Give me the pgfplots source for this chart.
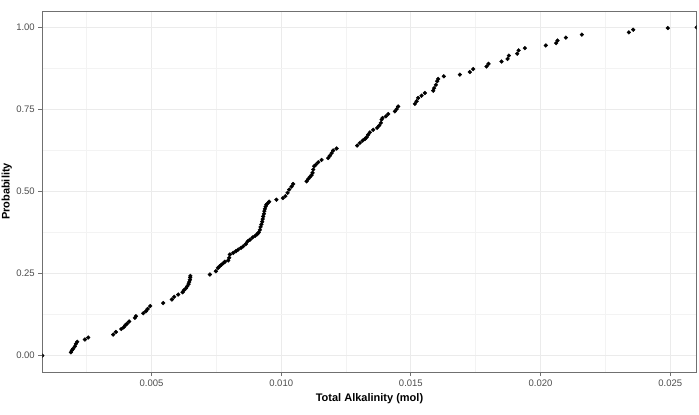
\documentclass[border=0pt]{standalone}
\usepackage{pgfplots}
\pgfplotsset{compat=1.18}
\usepackage{fontspec}
\setmainfont{Liberation Sans}

\definecolor{gridmaj}{HTML}{EBEBEB}
\definecolor{gridmin}{HTML}{F3F3F3}
\definecolor{frame}{HTML}{707070}
\definecolor{ticktext}{HTML}{4D4D4D}

% empirical cumulative probability of total alkalinity
\pgfplotstableread{
x y
0.00079 0.000
0.001893 0.010
0.001931 0.016
0.001982 0.021
0.002047 0.028
0.002086 0.036
0.002136 0.042
0.002433 0.049
0.00256 0.055
0.003524 0.064
0.003628 0.072
0.003832 0.081
0.003924 0.086
0.003986 0.092
0.004052 0.097
0.00414 0.104
0.00436 0.115
0.004399 0.120
0.00468 0.129
0.004784 0.135
0.00485 0.142
0.00495 0.151
0.005451 0.160
0.005786 0.171
0.005875 0.179
0.006029 0.186
0.006199 0.193
0.006249 0.199
0.006326 0.205
0.006376 0.211
0.00643 0.218
0.006453 0.224
0.00648 0.231
0.006492 0.238
0.0065 0.243
0.007251 0.247
0.007483 0.257
0.00756 0.267
0.007625 0.272
0.007695 0.277
0.007772 0.282
0.00783 0.286
0.007957 0.290
0.007995 0.298
0.008022 0.308
0.00815 0.313
0.008254 0.318
0.008342 0.323
0.008446 0.328
0.008535 0.333
0.008639 0.340
0.008705 0.348
0.008793 0.353
0.008897 0.360
0.008998 0.365
0.009075 0.370
0.009129 0.375
0.009179 0.383
0.009206 0.392
0.009237 0.400
0.009267 0.408
0.009287 0.416
0.009306 0.424
0.009333 0.432
0.009352 0.440
0.009372 0.447
0.009399 0.454
0.009429 0.460
0.009468 0.463
0.009537 0.469
0.009815 0.475
0.010065 0.480
0.010162 0.486
0.010247 0.496
0.010308 0.506
0.010401 0.515
0.010463 0.523
0.010979 0.531
0.011041 0.538
0.011106 0.544
0.011172 0.550
0.01121 0.557
0.011234 0.567
0.011272 0.577
0.011338 0.582
0.011426 0.589
0.011557 0.596
0.011812 0.602
0.011877 0.609
0.011943 0.617
0.012005 0.625
0.012136 0.631
0.01293 0.640
0.013034 0.648
0.013138 0.655
0.013227 0.660
0.013292 0.665
0.013354 0.673
0.013419 0.680
0.013547 0.688
0.013701 0.694
0.013778 0.701
0.013843 0.709
0.01387 0.719
0.013909 0.724
0.014036 0.729
0.014125 0.736
0.014383 0.744
0.014449 0.751
0.01451 0.759
0.015154 0.767
0.01522 0.775
0.015281 0.785
0.015412 0.792
0.01554 0.800
0.01586 0.807
0.015898 0.815
0.015964 0.825
0.016014 0.836
0.016052 0.843
0.016272 0.851
0.016889 0.856
0.017274 0.864
0.017402 0.873
0.017918 0.881
0.017995 0.889
0.018496 0.896
0.018728 0.904
0.018778 0.914
0.019098 0.920
0.019152 0.930
0.019395 0.937
0.020204 0.945
0.020601 0.952
0.020655 0.960
0.020975 0.969
0.021592 0.978
0.023404 0.985
0.02357 0.993
0.024907 0.998
0.02602 1.000
}\ecdfdata

\begin{document}
\begin{tikzpicture}
\begin{axis}[
    scale only axis,
    width=654.4bp,
    height=361bp,
    xmin=0.00079, xmax=0.02602,
    ymin=-0.05, ymax=1.05,
    scaled ticks=false,
    xtick={0.005,0.010,0.015,0.020,0.025},
    xticklabels={0.005,0.010,0.015,0.020,0.025},
    ytick={0,0.25,0.5,0.75,1},
    yticklabels={0.00,0.25,0.50,0.75,1.00},
    minor xtick={0.0025,0.0075,0.0125,0.0175,0.0225},
    minor ytick={0.125,0.375,0.625,0.875},
    grid=both,
    major grid style={draw=gridmaj, line width=0.9bp},
    minor grid style={draw=gridmin, line width=0.6bp},
    minor tick length=0pt,
    major tick length=4bp,
    tick align=outside,
    xtick pos=bottom,
    ytick pos=left,
    tick style={draw=frame, line width=0.8bp},
    axis line style={draw=frame, line width=0.9bp},
    tick label style={font=\fontsize{9.5bp}{11bp}\selectfont, text=ticktext},
    xlabel={\textbf{Total Alkalinity (mol)}},
    ylabel={\textbf{Probability}},
    label style={font=\fontsize{11bp}{13bp}\selectfont},
    xlabel style={at={(axis description cs:0.5,-0.0748)}, anchor=center},
    ylabel style={at={(axis description cs:-0.0544,0.5)}, anchor=center},
    clip marker paths=true,
]
\addplot[only marks, mark=*, mark size=1.9bp, draw=black, fill=black]
    table[x=x, y=y] {\ecdfdata};
\end{axis}
\pgfresetboundingbox
\path[use as bounding box]
    ([xshift=-42.3bp,yshift=-43bp]current axis.south west)
    rectangle ([xshift=2.3bp,yshift=11bp]current axis.north east);
\end{tikzpicture}
\end{document}
